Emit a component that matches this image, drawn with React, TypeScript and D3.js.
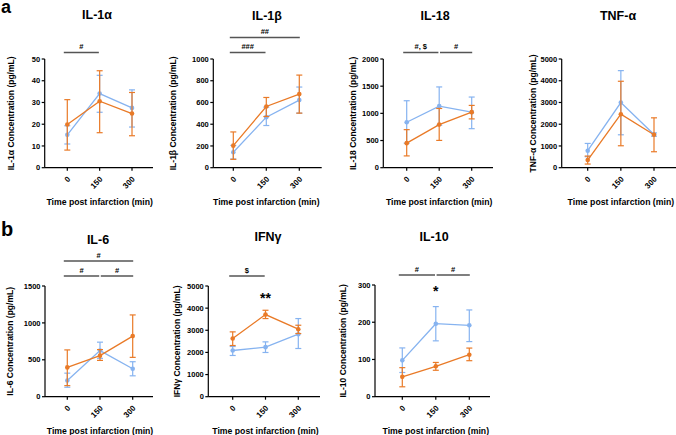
import React from 'react';
import * as d3 from 'd3';

const BLUE = '#86b3f0';
const ORANGE = '#e97a27';
const FONT = '"Liberation Sans", Arial, Helvetica, sans-serif';

const times = [0, 150, 300];

// means and [low, high] error bars
const il1aBlue = [15.1, 34.1, 27.5];
const il1aBlueErr = [[10.9, 19.3], [25.5, 42.5], [18.7, 35.8]];
const il1aOrange = [19.9, 30.6, 24.9];
const il1aOrangeErr = [[8.1, 31.3], [16.1, 44.6], [14.7, 34.6]];

const il1bBlue = [142, 465, 622];
const il1bBlueErr = [[80, 205], [388, 557], [502, 742]];
const il1bOrange = [203, 563, 677];
const il1bOrangeErr = [[77, 329], [471, 646], [502, 852]];

const il18Blue = [836, 1133, 1022];
const il18BlueErr = [[452, 1232], [780, 1486], [718, 1300]];
const il18Orange = [452, 793, 1022];
const il18OrangeErr = [[217, 700], [502, 1090], [898, 1146]];

const tnfBlue = [780, 2997, 1529];
const tnfBlueErr = [[505, 1116], [1514, 4465], [1450, 1600]];
const tnfOrange = [352, 2462, 1514];
const tnfOrangeErr = [[168, 535], [1009, 3976], [734, 2294]];

const il6Blue = [219, 625, 378];
const il6BlueErr = [[128, 319], [520, 739], [283, 474]];
const il6Orange = [397, 556, 821];
const il6OrangeErr = [[150, 634], [492, 638], [533, 1108]];

const ifnBlue = [2087, 2237, 2823];
const ifnBlueErr = [[1862, 2267], [1997, 2477], [2177, 3529]];
const ifnOrange = [2628, 3709, 3048];
const ifnOrangeErr = [[2312, 2928], [3529, 3904], [2853, 3228]];

const il10Blue = [97.6, 196, 191.7];
const il10BlueErr = [[65, 131], [150, 242], [148, 233]];
const il10Orange = [53.3, 81.7, 112.7];
const il10OrangeErr = [[26.6, 78], [71, 92], [96.7, 130.6]];

type Sig = { from: number; to: number; label: string; level: number };

const panels = [
  {
    title: 'IL-1α', ylabel: 'IL-1α Concentration (pg/mL)', max: 50, step: 10,
    blue: il1aBlue, blueErr: il1aBlueErr, orange: il1aOrange, orangeErr: il1aOrangeErr,
    sigs: [{ from: 0, to: 150, label: '#', level: 0 }] as Sig[], stars: [] as { t: number; label: string; dy: number }[],
    left: 44.7, x0: 67.3, x300: 132, right: 153, top: 59, bottom: 167.7, labelX: 11, titleX: 97, titleY: 19,
  },
  {
    title: 'IL-1β', ylabel: 'IL-1β Concentration (pg/mL)', max: 1000, step: 200,
    blue: il1bBlue, blueErr: il1bBlueErr, orange: il1bOrange, orangeErr: il1bOrangeErr,
    sigs: [{ from: 0, to: 150, label: '###', level: 0 }, { from: 0, to: 300, label: '##', level: 1 }],
    stars: [],
    left: 213.3, x0: 233.3, x300: 299.3, right: 321.7, top: 59, bottom: 167.7, labelX: 173, titleX: 267, titleY: 20,
  },
  {
    title: 'IL-18', ylabel: 'IL-18 Concentration (pg/mL)', max: 2000, step: 500,
    blue: il18Blue, blueErr: il18BlueErr, orange: il18Orange, orangeErr: il18OrangeErr,
    sigs: [{ from: 0, to: 150, label: '#, $', level: 0 }, { from: 150, to: 300, label: '#', level: 0 }],
    stars: [],
    left: 383.3, x0: 406.7, x300: 471.7, right: 493, top: 59, bottom: 167.7, labelX: 353, titleX: 435, titleY: 20,
  },
  {
    title: 'TNF-α', ylabel: 'TNF-α Concentration (pg/mL)', max: 5000, step: 1000,
    blue: tnfBlue, blueErr: tnfBlueErr, orange: tnfOrange, orangeErr: tnfOrangeErr,
    sigs: [], stars: [],
    left: 561.7, x0: 587.7, x300: 654, right: 676, top: 59, bottom: 167.7, labelX: 533, titleX: 618, titleY: 20,
  },
  {
    title: 'IL-6', ylabel: 'IL-6 Concentration (pg/mL)', max: 1500, step: 500,
    blue: il6Blue, blueErr: il6BlueErr, orange: il6Orange, orangeErr: il6OrangeErr,
    sigs: [{ from: 0, to: 150, label: '#', level: 0 }, { from: 150, to: 300, label: '#', level: 0 },
      { from: 0, to: 300, label: '#', level: 1 }],
    stars: [],
    left: 45, x0: 67.3, x300: 132.7, right: 153, top: 286, bottom: 396.7, labelX: 10, titleX: 98, titleY: 244,
  },
  {
    title: 'IFNγ', ylabel: 'IFNγ Concentration (pg/mL)', max: 5000, step: 1000,
    blue: ifnBlue, blueErr: ifnBlueErr, orange: ifnOrange, orangeErr: ifnOrangeErr,
    sigs: [{ from: 0, to: 150, label: '$', level: 0 }],
    stars: [{ t: 150, label: '**', dy: 16.5 }],
    left: 208.3, x0: 232.7, x300: 298.3, right: 320, top: 286, bottom: 396.7, labelX: 177, titleX: 268, titleY: 241,
  },
  {
    title: 'IL-10', ylabel: 'IL-10 Concentration (pg/mL)', max: 300, step: 100,
    blue: il10Blue, blueErr: il10BlueErr, orange: il10Orange, orangeErr: il10OrangeErr,
    sigs: [{ from: 0, to: 150, label: '#', level: 0 }, { from: 150, to: 300, label: '#', level: 0 }],
    stars: [{ t: 150, label: '*', dy: 11 }],
    left: 375, x0: 402.3, x300: 469.3, right: 490, top: 285, bottom: 396.7, labelX: 343, titleX: 434, titleY: 241,
  },
];

const Series = ({ vals, errs, color, x, y }: any) => {
  const line = d3.line<number>().x((_, i) => x(times[i])).y(d => y(d));
  return (
    <g>
      <path d={line(vals) || ''} fill="none" stroke={color} strokeWidth={1.3} />
      {errs.map((e: number[], i: number) => (
        <g key={i} stroke={color} strokeWidth={1.2}>
          <line x1={x(times[i])} x2={x(times[i])} y1={y(e[0])} y2={y(e[1])} />
          <line x1={x(times[i]) - 3} x2={x(times[i]) + 3} y1={y(e[0])} y2={y(e[0])} />
          <line x1={x(times[i]) - 3} x2={x(times[i]) + 3} y1={y(e[1])} y2={y(e[1])} />
        </g>
      ))}
      {vals.map((v: number, i: number) => (
        <circle key={i} cx={x(times[i])} cy={y(v)} r={2.3} fill={color} />
      ))}
    </g>
  );
};

const Panel = ({ p }: { p: any }) => {
  const x = d3.scaleLinear().domain([0, 300]).range([p.x0, p.x300]);
  const y = d3.scaleLinear().domain([0, p.max]).range([p.bottom, p.top]);
  const ticks = d3.range(0, p.max + p.step / 2, p.step);
  const rowB = p.top > 200;
  const sigBase = p.top - (rowB ? 10 : 6.5);
  return (
    <g fontFamily={FONT} fontWeight="bold">
      <text x={p.titleX} y={p.titleY} textAnchor="middle" fontSize={12.5}>{p.title}</text>
      {/* axes */}
      <line x1={p.left} x2={p.left} y1={p.top} y2={p.bottom} stroke="#000" strokeWidth={1.2} />
      <line x1={p.left} x2={p.right} y1={p.bottom} y2={p.bottom} stroke="#000" strokeWidth={1.2} />
      {ticks.map(t => (
        <g key={t}>
          <line x1={p.left - 3} x2={p.left} y1={y(t)} y2={y(t)} stroke="#000" strokeWidth={1.2} />
          <text x={p.left - 4.5} y={y(t)} dy="0.35em" textAnchor="end" fontSize={7.5}>{t}</text>
        </g>
      ))}
      {times.map(t => (
        <g key={t}>
          <line x1={x(t)} x2={x(t)} y1={p.bottom} y2={p.bottom + 3} stroke="#000" strokeWidth={1.2} />
          <text transform={`translate(${x(t) + 1.5},${p.bottom + 10})rotate(-45)`} textAnchor="end"
            dy="0.35em" fontSize={8}>{t}</text>
        </g>
      ))}
      <text x={x(150)} y={p.bottom + 37} textAnchor="middle" fontSize={8.7}>Time post infarction (min)</text>
      <text transform={`translate(${p.labelX},${(p.top + p.bottom) / 2}) rotate(-90)`} textAnchor="middle"
        dy="0.35em" fontSize={8.5}>{p.ylabel}</text>
      {/* significance bars */}
      {p.sigs.map((s: Sig, i: number) => {
        const yy = sigBase - s.level * 15;
        const x1 = x(s.from) - (s.from === 0 ? 3.5 : -0.8);
        const x2 = x(s.to) - (s.to === 150 ? 0.8 : -0.5);
        return (
          <g key={i}>
            <line x1={x1} x2={x2} y1={yy} y2={yy} stroke="#555" strokeWidth={1.3} />
            <text x={(x1 + x2) / 2} y={yy - 3.5} textAnchor="middle" fontSize={7.5}>{s.label}</text>
          </g>
        );
      })}
      <Series vals={p.blue} errs={p.blueErr} color={BLUE} x={x} y={y} />
      <Series vals={p.orange} errs={p.orangeErr} color={ORANGE} x={x} y={y} />
      {p.stars.map((s: any, i: number) => (
        <text key={i} x={x(s.t)} y={p.top + s.dy} textAnchor="middle" fontSize={14}>{s.label}</text>
      ))}
    </g>
  );
};

const App = () => (
  <svg width={676} height={435} style={{ display: 'block', position: 'absolute', left: 0, top: 0 }}>
    <rect width={676} height={435} fill="#fff" />
    <text x={1} y={13} fontFamily={FONT} fontWeight="bold" fontSize={18}>a</text>
    <text x={1} y={236} fontFamily={FONT} fontWeight="bold" fontSize={20}>b</text>
    {panels.map((p, i) => <Panel key={i} p={p} />)}
  </svg>
);

export default App;
